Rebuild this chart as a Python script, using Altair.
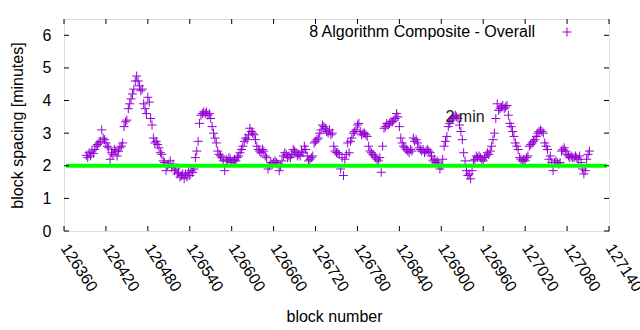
import altair as alt
import pandas as pd

# ---- data ----
first_block = 126392
block_step = 2
spacing = [
    2.32, 2.25, 2.4, 2.3, 2.45, 2.38, 2.5, 2.6, 2.65, 2.7,
    2.75, 3.1, 2.85, 2.8, 2.7, 2.6, 2.55, 2.2, 2.4, 2.35,
    2.5, 2.45, 2.3, 2.45, 2.55, 2.6, 2.7, 3.2, 3.35, 3.4,
    3.75, 3.9, 4.05, 4.2, 4.35, 4.6, 4.75, 4.6, 4.45, 4.3,
    4.35, 3.9, 3.75, 3.6, 4.1, 3.95, 3.45, 3.25, 2.85, 2.7,
    2.75, 2.65, 2.55, 2.4, 2.35, 2.15, 2.1, 1.85, 2.0, 2.05,
    2.15, 1.95, 2.05, 1.85, 1.9, 1.75, 1.8, 1.65, 1.7, 1.75,
    1.6, 1.75, 1.65, 1.8, 1.7, 1.85, 1.8, 1.9, 2.25, 2.45,
    2.75, 3.3, 3.55, 3.6, 3.65, 3.6, 3.65, 3.55, 3.6, 3.45,
    3.2, 3.0, 2.85, 2.7, 2.45, 2.35, 2.3, 2.25, 2.15, 1.85,
    2.2, 2.15, 2.25, 2.2, 2.1, 2.15, 2.2, 2.15, 2.25, 2.3,
    2.4, 2.5, 2.6, 2.75, 2.85, 2.8, 2.95, 3.15, 3.05, 3.0,
    2.95, 2.8, 2.6, 2.5, 2.45, 2.4, 2.5, 2.45, 2.3, 2.25,
    1.9, 2.0, 2.1, 2.05, 2.1, 2.15, 2.1, 2.05, 1.85, 2.0,
    2.15, 2.3, 2.4, 2.35, 2.25, 2.3, 2.25, 2.35, 2.5, 2.45,
    2.4, 2.3, 2.35, 2.3, 2.45, 2.4, 2.6, 2.5, 2.3, 2.15,
    2.2, 2.25, 2.3, 2.7, 2.75, 2.8, 2.85, 3.0, 3.1, 3.25,
    3.2, 3.15, 3.05, 3.0, 3.1, 2.95, 3.0, 2.6, 2.45, 2.4,
    2.4, 2.35, 1.9, 2.25, 1.7, 2.2, 2.35, 2.7, 2.4, 2.75,
    2.85, 3.0, 3.05, 3.1, 3.25, 3.3, 3.05, 2.95, 3.0, 3.0,
    2.95, 2.9, 2.6, 2.45, 2.4, 2.35, 2.3, 2.25, 2.2, 2.15,
    2.25, 1.8, 2.6, 3.15, 3.2, 3.3, 3.25, 3.3, 3.35, 3.35,
    3.4, 3.45, 3.6, 3.5, 3.2, 2.85, 2.7, 2.6, 2.55, 2.5,
    2.45, 2.4, 2.5, 2.45, 2.85, 2.75, 2.8, 2.7, 2.55, 2.5,
    2.45, 2.5, 2.4, 2.45, 2.5, 2.45, 2.4, 2.3, 2.15, 2.2,
    2.1, 2.15, 2.05, 1.9, 2.0, 2.2, 2.6, 2.75, 2.9, 3.2,
    3.3, 3.4, 3.45, 3.5, 3.55, 3.5, 3.45, 3.25, 3.05, 2.8,
    2.4, 2.15, 1.85, 1.7, 1.75, 1.6, 1.85, 2.15, 2.2, 2.3,
    2.25, 2.3, 2.25, 2.2, 2.15, 2.25, 2.3, 2.4, 2.35, 2.45,
    2.6, 2.8, 3.0, 3.45, 3.9, 3.7, 3.75, 3.8, 3.85, 3.75,
    3.8, 3.85, 3.55, 3.3, 3.2, 3.05, 2.9, 2.7, 2.6, 2.5,
    2.25, 2.2, 2.15, 2.2, 2.15, 2.25, 2.3, 2.6, 2.65, 2.7,
    2.75, 2.8, 2.9, 3.0, 3.05, 3.1, 3.05, 3.0, 2.7, 2.6,
    2.5, 2.2, 2.3, 2.1, 1.85, 2.1, 2.15, 2.1, 2.05, 2.1,
    2.45, 2.5, 2.55, 2.45, 2.35, 2.3, 2.25, 2.3, 2.25, 2.25,
    2.3, 2.25, 2.2, 2.3, 2.1, 1.9, 1.75, 1.85, 2.2, 2.35,
    2.45,
]
blocks = [first_block + block_step * i for i in range(len(spacing))]

x_ticks = [126360, 126420, 126480, 126540, 126600, 126660, 126720,
           126780, 126840, 126900, 126960, 127020, 127080, 127140]
y_ticks = [0, 1, 2, 3, 4, 5, 6]
target_minutes = [2]
label_block = [126906]
label_value = [3.48]
label_text = ["2 min"]
series_name = "8 Algorithm Composite - Overall"

X_DOMAIN = [126360, 127140]
Y_DOMAIN = [0, 6.5]
W, H = 545, 212
FONT = "Liberation Sans"
PURPLE = "#9400d3"
CROSS = "M-1,0H1M0,-1V1"

df = pd.DataFrame({"block": blocks, "spacing": spacing})
xt = pd.DataFrame({"block": x_ticks})
yt = pd.DataFrame({"spacing": y_ticks})
tgt = pd.DataFrame({"spacing": target_minutes})
lab = pd.DataFrame({"block": label_block, "spacing": label_value, "text": label_text})
leg = pd.DataFrame({"name": [series_name]})

xs = alt.Scale(domain=X_DOMAIN, nice=False, zero=False)
ys = alt.Scale(domain=Y_DOMAIN, nice=False, zero=False)

xaxis = alt.Axis(
    values=x_ticks, format="d", ticks=False, domain=False, grid=False,
    labelAngle=57, labelAlign="left", labelBaseline="middle",
    labelPadding=14, labelFontSize=16, labelFont=FONT, labelColor="black",
    labelOverlap=False, labelFlush=False,
    title="block number", titleFontSize=16, titleFont=FONT,
    titleFontWeight="normal", titleColor="black",
    titleX=270, titleY=85, titleAlign="center", titleBaseline="middle")
yaxis = alt.Axis(
    values=y_ticks, ticks=False, domain=False, grid=False,
    labelPadding=13, labelFontSize=16, labelFont=FONT, labelColor="black",
    labelOverlap=False, labelFlush=False,
    title="block spacing [minutes]", titleFontSize=16, titleFont=FONT,
    titleFontWeight="normal", titleColor="black",
    titleX=-47, titleY=106, titleAngle=-90, titleAlign="center",
    titleBaseline="middle")


def X():
    return alt.X("block:Q", scale=xs, axis=xaxis, title="block number")


def Y():
    return alt.Y("spacing:Q", scale=ys, axis=yaxis, title="block spacing [minutes]")


points = alt.Chart(df).mark_point(
    shape=CROSS, size=81, filled=False, strokeWidth=1, color=PURPLE, opacity=1
).encode(x=X(), y=Y())

green = alt.Chart(tgt).mark_rule(color="#00ff00", strokeWidth=4).encode(
    y=Y(), x=alt.value(2), x2=alt.value(W - 2),
)

tick_len = 5
bt = alt.Chart(xt).mark_rule(color="black", strokeWidth=1).encode(
    x=X(), y=alt.value(H), y2=alt.value(H - tick_len))
tt = alt.Chart(xt).mark_rule(color="black", strokeWidth=1).encode(
    x=X(), y=alt.value(0), y2=alt.value(tick_len))
lt = alt.Chart(yt).mark_rule(color="black", strokeWidth=1).encode(
    y=Y(), x=alt.value(0), x2=alt.value(tick_len))
rt = alt.Chart(yt).mark_rule(color="black", strokeWidth=1).encode(
    y=Y(), x=alt.value(W), x2=alt.value(W - tick_len))

label = alt.Chart(lab).mark_text(
    align="left", baseline="middle", fontSize=16, font=FONT, color="#222222"
).encode(x=X(), y=Y(), text="text:N")

leg_text = alt.Chart(leg).mark_text(
    align="right", baseline="middle", fontSize=16, font=FONT, color="black"
).encode(x=alt.value(471), y=alt.value(13), text="name:N")
leg_mark = alt.Chart(leg).mark_point(
    shape=CROSS, size=81, filled=False, strokeWidth=1, color=PURPLE, opacity=1
).encode(x=alt.value(503), y=alt.value(13))

chart = alt.layer(points, green, bt, tt, lt, rt, label, leg_text, leg_mark).properties(
    width=W, height=H,
    autosize=alt.AutoSizeParams(type="none"),
    padding={"left": 64, "top": 19, "right": 31, "bottom": 99},
).configure_view(
    stroke="black", strokeWidth=1
).configure(background="white")

chart.save("out.html", embed_options={"renderer": "svg", "actions": False})
